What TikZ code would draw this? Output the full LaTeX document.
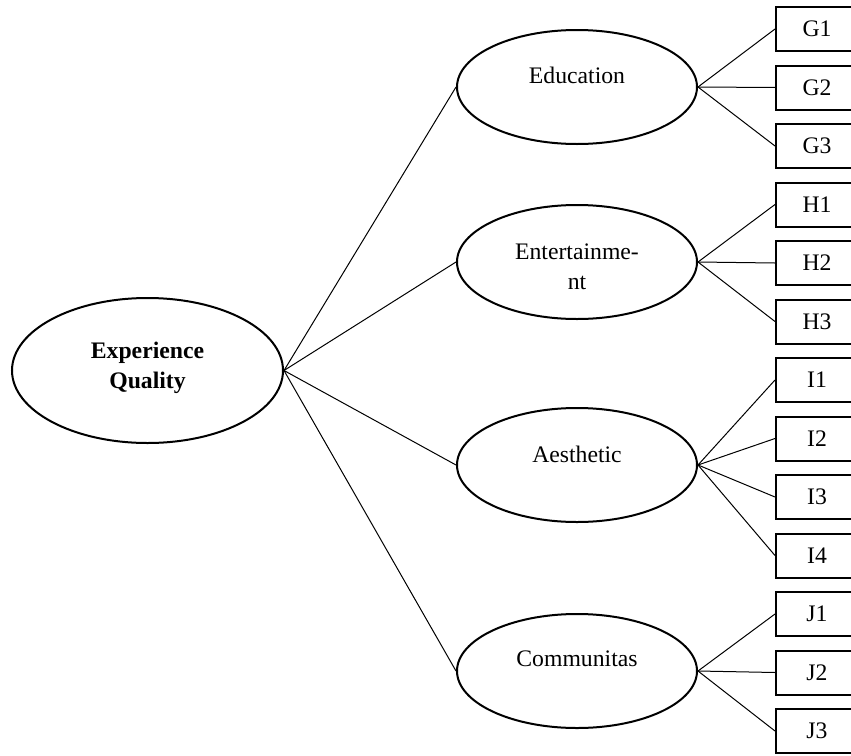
\documentclass[tikz,border=0pt]{standalone}
\usepackage{fontspec}
\setmainfont{Liberation Serif}
\usepackage{tikz}
\usetikzlibrary{shapes.geometric}

\begin{document}
\begin{tikzpicture}[x=0.5pt, y=-0.5pt,
  every node/.style={font=\fontsize{11.85}{15}\selectfont},
  construct/.style={ellipse, draw, line width=1pt, minimum width=120pt, minimum height=57pt, inner sep=0pt},
  item/.style={rectangle, draw, line width=1pt, minimum width=41pt, minimum height=22pt, inner sep=0pt},
  link/.style={line width=0.5pt}]
\useasboundingbox (0,0) rectangle (851,755);

% the second-order factor
\node[ellipse, draw, line width=1pt, minimum width=135.5pt, minimum height=72.5pt, inner sep=0pt,
  label={[align=center, font=\fontsize{11.85}{15}\selectfont\bfseries, yshift=1.5pt]center:Experience\\Quality}] (eq) at (147.5,370.5) {};

% first-order factors
\node[construct, label={[yshift=6pt]center:Education}] (edu) at (577,87) {};
\node[construct, label={[align=center, yshift=-2.5pt]center:Entertainme-\\nt}] (ent) at (577,262) {};
\node[construct, label={[yshift=5.5pt]center:Aesthetic}] (aes) at (577,465) {};
\node[construct, label={[yshift=6pt]center:Communitas}] (com) at (577,671) {};

% observed items
\foreach \name/\txt [count=\i from 0] in {g1/G1,g2/G2,g3/G3,h1/H1,h2/H2,h3/H3,i1/I1,i2/I2,i3/I3,i4/I4,j1/J1,j2/J2,j3/J3}
  \node[item] (\name) at (817,29+58.5*\i) {\txt};

\draw[link] (eq.east) -- (edu.west);
\draw[link] (eq.east) -- (ent.west);
\draw[link] (eq.east) -- (aes.west);
\draw[link] (eq.east) -- (com.west);

\foreach \b in {g1,g2,g3} \draw[link] (edu.east) -- (\b.west);
\foreach \b in {h1,h2,h3} \draw[link] (ent.east) -- (\b.west);
\foreach \b in {i1,i2,i3,i4} \draw[link] (aes.east) -- (\b.west);
\foreach \b in {j1,j2,j3} \draw[link] (com.east) -- (\b.west);
\end{tikzpicture}
\end{document}
